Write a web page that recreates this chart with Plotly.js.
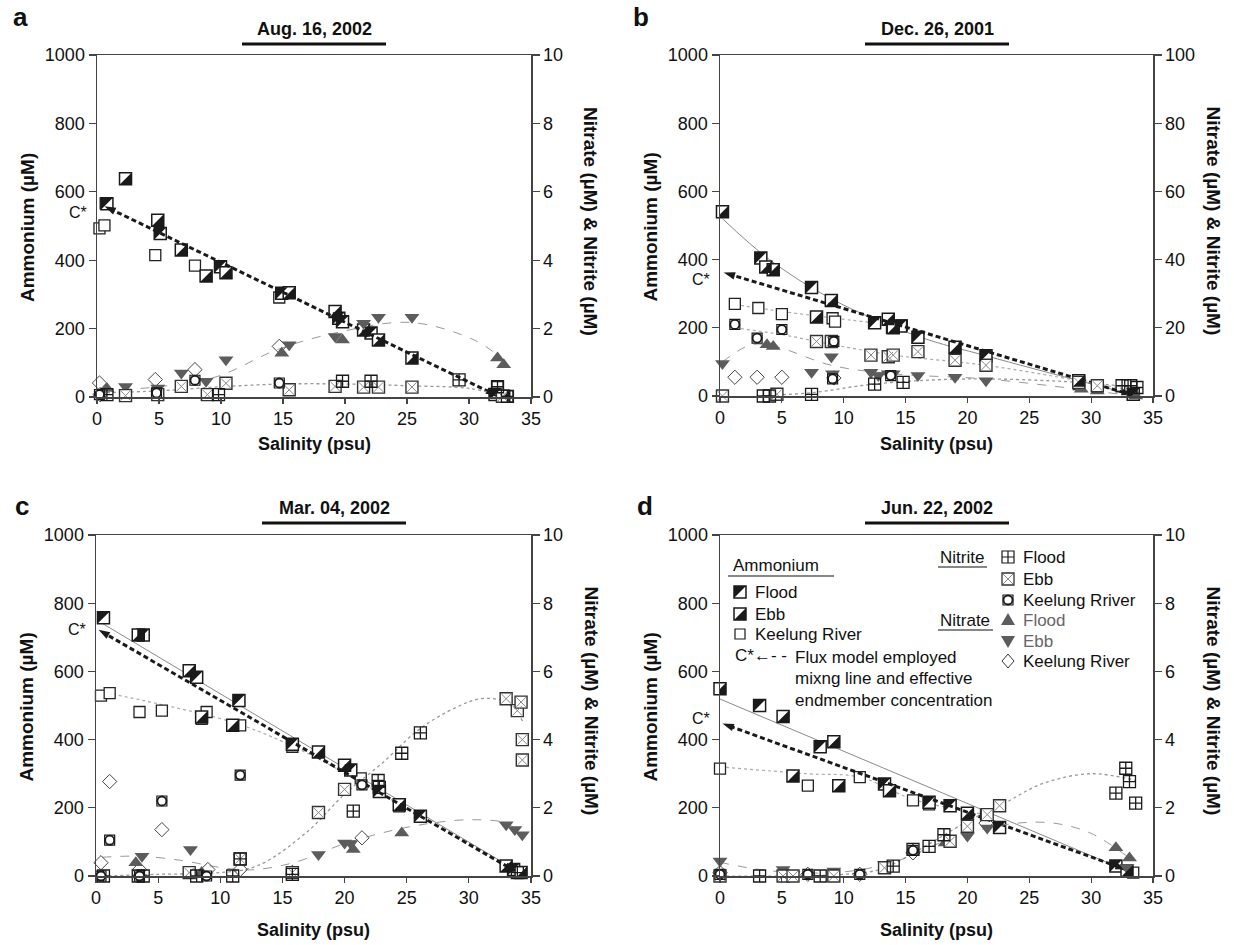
<!DOCTYPE html>
<html><head><meta charset="utf-8">
<script src="https://cdn.plot.ly/plotly-3.0.1.min.js"></script>
<style>body{margin:0;background:#fff}#chart{width:1234px;height:945px}</style>
</head><body><div id="chart"></div>
<script>
// ---------------- DATA (salinity psu / concentration µM) ----------------
// Panel a  Aug. 16, 2002
const aAmmFloodX = [0.8, 5.1, 9.96, 14.9, 19.5, 19.8, 22.1, 32.1];
const aAmmFloodY = [565, 478, 381, 303, 230, 220, 187, 7];
const aAmmEbbX = [2.3, 4.9, 6.8, 8.8, 10.4, 15.5, 19.2, 21.5, 22.7, 25.4, 32.8];
const aAmmEbbY = [638, 517, 430, 354, 363, 305, 250, 196, 167, 114, 2];
const aAmmRiverX = [0.2, 0.6, 0.7, 4.7, 7.9, 14.7, 32.3, 33.1];
const aAmmRiverY = [493, 502, 566, 415, 384, 291, 29, 2];
const aNitriteFloodX = [0.8, 9.8, 19.8, 22.1, 29.2, 32.3, 33.1];
const aNitriteFloodY = [0.07, 0.07, 0.46, 0.46, 0.5, 0.3, 0.02];
const aNitriteEbbX = [2.3, 4.9, 6.8, 8.9, 10.4, 15.5, 19.2, 21.5, 22.7, 25.4, 32.7];
const aNitriteEbbY = [0.04, 0.07, 0.31, 0.07, 0.4, 0.21, 0.31, 0.29, 0.29, 0.29, 0.02];
const aNitriteRiverX = [0.2, 4.8, 7.9, 14.7];
const aNitriteRiverY = [0.07, 0.12, 0.49, 0.41];
const aNitrateFloodX = [0.8, 14.9, 19.8, 32.3, 32.8];
const aNitrateFloodY = [0.25, 1.28, 1.67, 1.14, 0.94];
const aNitrateEbbX = [2.3, 4.9, 6.8, 8.8, 10.4, 15.5, 19.2, 21.5, 22.7, 25.4];
const aNitrateEbbY = [0.31, 0.26, 0.7, 0.46, 1.09, 1.53, 1.77, 2.16, 2.33, 2.33];
const aNitrateRiverX = [0.2, 0.25, 4.7, 7.9, 14.7];
const aNitrateRiverY = [0.41, 0.07, 0.51, 0.8, 1.48];
const aMixX = [32.2, 0.6];
const aMixY = [5, 558];
const aNitrateFitX = [0.6, 5, 9.7, 14.5, 19.2, 25.3, 30.4, 32.6];
const aNitrateFitY = [0.2, 0.3, 0.6, 1.38, 1.87, 2.18, 1.67, 1.14];
const aNitriteFitX = [0.3, 5, 10, 15, 20, 25, 30, 32.5];
const aNitriteFitY = [0.12, 0.18, 0.3, 0.38, 0.38, 0.33, 0.25, 0.05];

// Panel b  Dec. 26, 2001
const bAmmFloodX = [3.3, 7.4, 12.5, 14.6, 16.0, 21.5, 33.4];
const bAmmFloodY = [405, 318, 215, 205, 172, 118, 5];
const bAmmEbbX = [0.2, 3.7, 4.3, 7.8, 9.0, 13.6, 14.0, 19.0, 29.0];
const bAmmEbbY = [540, 378, 370, 232, 280, 225, 200, 143, 45];
const bAmmRiverX = [1.2, 3.1, 5.0, 9.1, 9.3, 13.9, 14.7, 29.0, 30.5];
const bAmmRiverY = [270, 258, 240, 228, 218, 200, 207, 35, 30];
const bNitriteFloodX = [3.5, 4.0, 7.4, 12.5, 14.8, 32.5, 33.2, 33.7];
const bNitriteFloodY = [0, 0, 0.5, 3.5, 4, 3, 3, 2.5];
const bNitriteEbbX = [0.2, 4.6, 7.8, 9.0, 12.2, 13.6, 14.0, 16.0, 19.0, 21.5, 29.0, 30.5];
const bNitriteEbbY = [0, 0.5, 16, 16, 12, 11.5, 12, 13, 10.5, 9, 4, 3];
const bNitriteRiverX = [1.2, 3.0, 5.0, 9.2, 9.1, 13.8];
const bNitriteRiverY = [21, 17, 19.5, 16, 5, 6];
const bNitrateFloodX = [3.8, 4.3, 29.2, 30.5, 33.6];
const bNitrateFloodY = [15, 14.5, 2, 1.5, 0];
const bNitrateEbbX = [0.2, 7.4, 9.0, 9.1, 12.2, 12.8, 13.6, 14.0, 16.0, 19.0, 21.5];
const bNitrateEbbY = [9.5, 7, 11.5, 6.5, 7, 6, 6.5, 6.5, 6, 5.5, 4.5];
const bNitrateRiverX = [1.2, 3.0, 5.0, 9.2];
const bNitrateRiverY = [5.5, 5.5, 5.5, 5.3];
const bMixX = [33.3, 0.3];
const bMixY = [3, 362];
const bAmmFitX = [0.2, 4, 9, 16, 21.5, 29, 33.5];
const bAmmFitY = [520, 400, 285, 175, 118, 45, 3];
const bRiverAmmFitX = [1.2, 5, 9.3, 14.8];
const bRiverAmmFitY = [268, 248, 228, 205];
const bNitrateFitX = [0.2, 2.5, 4.5, 9, 14, 21.5, 29, 33.5];
const bNitrateFitY = [10, 15, 14.5, 9, 6.5, 5, 2, 0];
const bNitriteFitX = [4.6, 7.5, 12.5, 20, 29, 33.5];
const bNitriteFitY = [0.3, 1, 3.5, 5, 4, 2.5];
const bNitriteEbbFitX = [1.2, 5, 9.2, 14, 21.5, 29, 33.5];
const bNitriteEbbFitY = [20, 18, 15, 12, 9, 4.5, 1.5];

// Panel c  Mar. 04, 2002
const cAmmFloodX = [0.6, 3.8, 8.1, 11.5, 15.8, 20.5, 22.8, 26.1, 33.6];
const cAmmFloodY = [757, 707, 583, 515, 386, 311, 248, 175, 19];
const cAmmEbbX = [3.4, 7.5, 8.5, 11.0, 17.9, 20.0, 24.4, 33.0, 34.2];
const cAmmEbbY = [707, 602, 466, 442, 364, 325, 209, 29, 10];
const cAmmRiverX = [0.4, 1.1, 3.5, 5.3, 8.5, 8.9, 11.6, 15.8, 21.3, 24.4];
const cAmmRiverY = [529, 536, 481, 485, 461, 481, 442, 379, 286, 204];
const cNitriteFloodX = [0.6, 3.4, 3.8, 8.1, 11.0, 11.6, 15.8, 20.7, 22.7, 22.8, 24.6, 26.1, 33.9];
const cNitriteFloodY = [0, 0, 0, 0, 0, 0.5, 0.05, 1.9, 2.8, 2.6, 3.6, 4.2, 0.1];
const cNitriteEbbX = [7.5, 11.6, 15.8, 17.9, 20.0, 33.0, 33.9, 34.2, 34.3, 34.3];
const cNitriteEbbY = [0.1, 0.5, 0.1, 1.86, 2.54, 5.2, 4.85, 5.1, 4.0, 3.4];
const cNitriteRiverX = [0.4, 1.1, 3.5, 5.3, 8.9, 11.6, 21.4];
const cNitriteRiverY = [0, 1.05, 0, 2.2, 0, 2.96, 2.67];
const cNitrateFloodX = [3.2, 8.5, 15.8, 20.7, 24.6];
const cNitrateFloodY = [0.39, 0.1, 0.15, 0.78, 1.26];
const cNitrateEbbX = [3.7, 7.6, 17.9, 20.0, 20.5, 33.0, 33.7, 34.3];
const cNitrateEbbY = [0.58, 0.78, 0.63, 0.97, 0.95, 1.5, 1.36, 1.21];
const cNitrateRiverX = [0.4, 1.1, 3.5, 5.3, 9.0, 11.6, 21.4];
const cNitrateRiverY = [0.39, 2.77, 0.19, 1.36, 0.19, 0.19, 1.12];
const cMixX = [33.7, 0.2];
const cMixY = [15, 722];
const cAmmFitX = [0.4, 33.7];
const cAmmFitY = [743, 19];
const cRiverAmmFitX = [0.4, 5, 11.5, 17, 24.4];
const cRiverAmmFitY = [540, 505, 445, 360, 210];
const cNitriteFitX = [0.5, 5, 10, 13, 17, 20, 23, 26, 29, 31, 33, 34.4];
const cNitriteFitY = [0, 0.05, 0.1, 0.3, 1.3, 2.4, 3.3, 4.3, 4.95, 5.2, 5.1, 4.5];
const cNitrateFitX = [0.5, 3.5, 7, 10, 12.5, 16, 20, 24, 27, 30, 33, 34.3];
const cNitrateFitY = [0.55, 0.58, 0.45, 0.25, 0.18, 0.4, 0.95, 1.35, 1.55, 1.65, 1.55, 1.2];

// Panel d  Jun. 22, 2002
const dAmmFloodX = [3.2, 8.1, 13.3, 16.9, 18.6, 22.6, 32.0];
const dAmmFloodY = [500, 379, 270, 216, 206, 142, 29];
const dAmmEbbX = [0.0, 5.1, 5.9, 9.2, 9.6, 13.7, 20.0, 32.9];
const dAmmEbbY = [549, 468, 293, 394, 265, 250, 184, 15];
const dAmmRiverX = [0.0, 7.1, 11.3, 15.6, 16.9, 21.5, 33.4];
const dAmmRiverY = [315, 265, 290, 222, 210, 180, 10];
const dNitriteFloodX = [3.2, 8.1, 14.0, 15.6, 16.9, 18.1, 32.0, 32.8, 33.1, 33.6];
const dNitriteFloodY = [0, 0, 0.29, 0.78, 0.87, 1.21, 2.43, 3.16, 2.77, 2.14];
const dNitriteEbbX = [0.0, 5.1, 5.9, 9.2, 13.3, 18.6, 20.0, 21.6, 22.6];
const dNitriteEbbY = [0, 0, 0, 0, 0.24, 1.02, 1.46, 1.8, 2.06];
const dNitriteRiverX = [0.0, 7.1, 11.3, 15.6];
const dNitriteRiverY = [0.05, 0.05, 0.05, 0.75];
const dNitrateFloodX = [18.2, 32.0, 33.1];
const dNitrateFloodY = [0.97, 0.83, 0.53];
const dNitrateEbbX = [0.0, 5.1, 5.9, 9.2, 13.3, 20.0, 21.6, 32.9];
const dNitrateEbbY = [0.44, 0.19, 0.05, 0.15, 0.34, 1.17, 1.41, 0.24];
const dNitrateRiverX = [0.0, 7.1, 11.3, 15.6, 21.5];
const dNitrateRiverY = [0.1, 0.05, 0.05, 0.68, 1.55];
const dMixX = [32.8, 0.2];
const dMixY = [19, 447];
const dAmmFitX = [0, 32.9];
const dAmmFitY = [519, 15];
const dRiverAmmFitX = [0, 7, 11.3, 15.6, 21.5];
const dRiverAmmFitY = [320, 300, 290, 225, 180];
const dNitriteFitX = [0, 5, 10, 13, 16, 20, 22.6, 26, 30, 33.6];
const dNitriteFitY = [0, 0, 0.05, 0.2, 0.75, 1.6, 2.05, 2.7, 3.0, 2.8];
const dNitrateFitX = [0, 3, 6, 10, 14, 18, 21, 24, 27, 30, 32.9];
const dNitrateFitY = [0.4, 0.2, 0.1, 0.12, 0.4, 1.0, 1.35, 1.55, 1.55, 1.25, 0.58];

const panelTitles = ['Aug. 16, 2002', 'Dec. 26, 2001', 'Mar. 04, 2002', 'Jun. 22, 2002'];
const panelLetters = ['a', 'b', 'c', 'd'];
const rightMax = [10, 100, 10, 10];
const xTitle = 'Salinity (psu)';
const yLeftTitle = 'Ammonium (µM)';
const yRightTitle = 'Nitrate (µM) &amp; Nitrite (µM)';

// ---------------- BUILD ----------------
const FONT = 'Liberation Sans, Arial, sans-serif';
const W = 1234, H = 945;
const px = v => v / W, py = v => 1 - v / H;
const DARK = '#1a1a1a', NGRAY = '#5c5c5c';
const traces = [];
const shapes = [];
const S = 12;
const TRI_UL = 'M-6,6 L6,6 L-6,-6 Z';   // upper-left half (Flood)
const TRI_LR = 'M6,-6 L-6,-6 L6,6 Z';   // lower-right half (Ebb)

function sc(x, y, xa, ya, marker) {
  return {type: 'scatter', mode: 'markers', x, y, xaxis: xa, yaxis: ya,
    marker, cliponaxis: false, hoverinfo: 'skip', showlegend: false};
}
function fit(x, y, xa, ya, dash, color, w) {
  traces.push({type: 'scatter', mode: 'lines', x, y, xaxis: xa, yaxis: ya,
    line: {shape: 'spline', smoothing: 1, dash, color, width: w},
    hoverinfo: 'skip', showlegend: false, cliponaxis: false});
}
function halfSq(x, y, xa, ya, path) {
  traces.push(sc(x, y, xa, ya, {symbol: 'square', size: S, color: '#fff', line: {color: DARK, width: 1.5}}));
  x.forEach((xv, k) => shapes.push({type: 'path', xref: xa, yref: ya, xsizemode: 'pixel', ysizemode: 'pixel',
    xanchor: xv, yanchor: y[k], path, fillcolor: DARK, line: {width: 0}, layer: 'above'}));
}
function panel(P, xa, yl, yr) {
  const g = n => P[n];
  if (g('AmmFitX')) fit(g('AmmFitX'), g('AmmFitY'), xa, yl, 'solid', '#8a8a8a', 1);
  if (g('RiverAmmFitX')) fit(g('RiverAmmFitX'), g('RiverAmmFitY'), xa, yl, 'dot', '#aaa', 1.2);
  if (g('NitriteFitX')) fit(g('NitriteFitX'), g('NitriteFitY'), xa, yr, 'dot', '#999', 1.3);
  if (g('NitriteEbbFitX')) fit(g('NitriteEbbFitX'), g('NitriteEbbFitY'), xa, yr, 'dot', '#aaa', 1.2);
  if (g('NitrateFitX')) fit(g('NitrateFitX'), g('NitrateFitY'), xa, yr, 'dash', '#999', 1);
  traces.push(sc(g('NitrateRiverX'), g('NitrateRiverY'), xa, yr, {symbol: 'diamond-open', size: 11, color: '#444', line: {width: 1}}));
  traces.push(sc(g('NitrateFloodX'), g('NitrateFloodY'), xa, yr, {symbol: 'triangle-up', size: 13, color: NGRAY, line: {width: 0}}));
  traces.push(sc(g('NitrateEbbX'), g('NitrateEbbY'), xa, yr, {symbol: 'triangle-down', size: 13, color: NGRAY, line: {width: 0}}));
  traces.push(sc(g('NitriteEbbX'), g('NitriteEbbY'), xa, yr, {symbol: 'square', size: S, color: '#fff', line: {color: '#333', width: 1.4}}));
  traces.push(sc(g('NitriteEbbX'), g('NitriteEbbY'), xa, yr, {symbol: 'x-thin-open', size: S * 0.8, color: '#888', line: {color: '#888', width: 1}}));
  traces.push(sc(g('NitriteFloodX'), g('NitriteFloodY'), xa, yr, {symbol: 'square-cross-open', size: S, color: DARK, line: {color: DARK, width: 1.3}}));
  traces.push(sc(g('NitriteRiverX'), g('NitriteRiverY'), xa, yr, {symbol: 'square-open', size: 10, color: DARK, line: {color: DARK, width: 1.2}}));
  traces.push(sc(g('NitriteRiverX'), g('NitriteRiverY'), xa, yr, {symbol: 'circle', size: 9, color: '#fff', line: {color: DARK, width: 1.8}}));
  traces.push(sc(g('AmmRiverX'), g('AmmRiverY'), xa, yl, {symbol: 'square', size: 11, color: '#fff', line: {color: '#222', width: 1.3}}));
  halfSq(g('AmmFloodX'), g('AmmFloodY'), xa, yl, TRI_UL);
  halfSq(g('AmmEbbX'), g('AmmEbbY'), xa, yl, TRI_LR);
  traces.push({type: 'scatter', mode: 'lines+markers', x: g('MixX'), y: g('MixY'), xaxis: xa, yaxis: yl,
    line: {color: DARK, width: 3, dash: '5px,3px'},
    marker: {symbol: 'arrow', size: 12, angleref: 'previous', color: DARK},
    cliponaxis: false, hoverinfo: 'skip', showlegend: false});
  traces.push({type: 'scatter', mode: 'markers', x: g('MixX').slice().reverse(), y: g('MixY').slice().reverse(), xaxis: xa, yaxis: yl,
    marker: {symbol: 'arrow', size: 11, angleref: 'previous', color: DARK},
    cliponaxis: false, hoverinfo: 'skip', showlegend: false});
}
const ALL = {
  a: {AmmFloodX: aAmmFloodX, AmmFloodY: aAmmFloodY, AmmEbbX: aAmmEbbX, AmmEbbY: aAmmEbbY, AmmRiverX: aAmmRiverX, AmmRiverY: aAmmRiverY,
      NitriteFloodX: aNitriteFloodX, NitriteFloodY: aNitriteFloodY, NitriteEbbX: aNitriteEbbX, NitriteEbbY: aNitriteEbbY,
      NitriteRiverX: aNitriteRiverX, NitriteRiverY: aNitriteRiverY, NitrateFloodX: aNitrateFloodX, NitrateFloodY: aNitrateFloodY,
      NitrateEbbX: aNitrateEbbX, NitrateEbbY: aNitrateEbbY, NitrateRiverX: aNitrateRiverX, NitrateRiverY: aNitrateRiverY,
      MixX: aMixX, MixY: aMixY, NitrateFitX: aNitrateFitX, NitrateFitY: aNitrateFitY, NitriteFitX: aNitriteFitX, NitriteFitY: aNitriteFitY},
  b: {AmmFloodX: bAmmFloodX, AmmFloodY: bAmmFloodY, AmmEbbX: bAmmEbbX, AmmEbbY: bAmmEbbY, AmmRiverX: bAmmRiverX, AmmRiverY: bAmmRiverY,
      NitriteFloodX: bNitriteFloodX, NitriteFloodY: bNitriteFloodY, NitriteEbbX: bNitriteEbbX, NitriteEbbY: bNitriteEbbY,
      NitriteRiverX: bNitriteRiverX, NitriteRiverY: bNitriteRiverY, NitrateFloodX: bNitrateFloodX, NitrateFloodY: bNitrateFloodY,
      NitrateEbbX: bNitrateEbbX, NitrateEbbY: bNitrateEbbY, NitrateRiverX: bNitrateRiverX, NitrateRiverY: bNitrateRiverY,
      MixX: bMixX, MixY: bMixY, AmmFitX: bAmmFitX, AmmFitY: bAmmFitY, RiverAmmFitX: bRiverAmmFitX, RiverAmmFitY: bRiverAmmFitY,
      NitrateFitX: bNitrateFitX, NitrateFitY: bNitrateFitY, NitriteFitX: bNitriteFitX, NitriteFitY: bNitriteFitY,
      NitriteEbbFitX: bNitriteEbbFitX, NitriteEbbFitY: bNitriteEbbFitY},
  c: {AmmFloodX: cAmmFloodX, AmmFloodY: cAmmFloodY, AmmEbbX: cAmmEbbX, AmmEbbY: cAmmEbbY, AmmRiverX: cAmmRiverX, AmmRiverY: cAmmRiverY,
      NitriteFloodX: cNitriteFloodX, NitriteFloodY: cNitriteFloodY, NitriteEbbX: cNitriteEbbX, NitriteEbbY: cNitriteEbbY,
      NitriteRiverX: cNitriteRiverX, NitriteRiverY: cNitriteRiverY, NitrateFloodX: cNitrateFloodX, NitrateFloodY: cNitrateFloodY,
      NitrateEbbX: cNitrateEbbX, NitrateEbbY: cNitrateEbbY, NitrateRiverX: cNitrateRiverX, NitrateRiverY: cNitrateRiverY,
      MixX: cMixX, MixY: cMixY, AmmFitX: cAmmFitX, AmmFitY: cAmmFitY, RiverAmmFitX: cRiverAmmFitX, RiverAmmFitY: cRiverAmmFitY,
      NitrateFitX: cNitrateFitX, NitrateFitY: cNitrateFitY, NitriteFitX: cNitriteFitX, NitriteFitY: cNitriteFitY},
  d: {AmmFloodX: dAmmFloodX, AmmFloodY: dAmmFloodY, AmmEbbX: dAmmEbbX, AmmEbbY: dAmmEbbY, AmmRiverX: dAmmRiverX, AmmRiverY: dAmmRiverY,
      NitriteFloodX: dNitriteFloodX, NitriteFloodY: dNitriteFloodY, NitriteEbbX: dNitriteEbbX, NitriteEbbY: dNitriteEbbY,
      NitriteRiverX: dNitriteRiverX, NitriteRiverY: dNitriteRiverY, NitrateFloodX: dNitrateFloodX, NitrateFloodY: dNitrateFloodY,
      NitrateEbbX: dNitrateEbbX, NitrateEbbY: dNitrateEbbY, NitrateRiverX: dNitrateRiverX, NitrateRiverY: dNitrateRiverY,
      MixX: dMixX, MixY: dMixY, AmmFitX: dAmmFitX, AmmFitY: dAmmFitY, RiverAmmFitX: dRiverAmmFitX, RiverAmmFitY: dRiverAmmFitY,
      NitrateFitX: dNitrateFitX, NitrateFitY: dNitrateFitY, NitriteFitX: dNitriteFitX, NitriteFitY: dNitriteFitY}
};

// geometry in pixels: [left, right, top, bottom]
const geo = [[97, 531, 55, 397], [720, 1153, 55, 396], [96, 531, 535, 876], [720, 1153, 535, 876]];
const cStarShift = [-6, -7, 0, 5];
const layout = {width: W, height: H, autosize: false, margin: {l: 0, r: 0, t: 0, b: 0},
  paper_bgcolor: '#fff', plot_bgcolor: 'rgba(0,0,0,0)', showlegend: false,
  font: {family: FONT, size: 18, color: '#111'}, annotations: [], shapes};
const tickfont = {family: FONT, size: 18, color: '#111'};
['a', 'b', 'c', 'd'].forEach((p, i) => {
  const [l, r, t, b] = geo[i];
  const xn = i === 0 ? '' : String(i + 1);
  const yl = 2 * i + 1, yr = 2 * i + 2;
  const ylName = yl === 1 ? '' : String(yl);
  layout['xaxis' + xn] = {domain: [px(l), px(r)], anchor: 'y' + ylName, range: [0, 35], dtick: 5, tick0: 0,
    ticks: 'outside', ticklen: 5, tickwidth: 1.2, tickcolor: '#444', showline: true, linecolor: '#444', linewidth: 1.5,
    mirror: true, showgrid: false, zeroline: false, tickfont, fixedrange: true};
  layout['yaxis' + ylName] = {domain: [py(b), py(t)], anchor: 'x' + xn, range: [0, 1000], dtick: 200, tick0: 0,
    ticks: 'outside', ticklen: 7, tickwidth: 1.2, tickcolor: '#444', showline: true, linecolor: '#444', linewidth: 1.5,
    showgrid: false, zeroline: false, tickfont, fixedrange: true};
  layout['yaxis' + yr] = {overlaying: 'y' + ylName, side: 'right', anchor: 'x' + xn, range: [0, rightMax[i]],
    dtick: rightMax[i] / 5, tick0: 0, ticks: 'outside', ticklen: 7, tickwidth: 1.2, tickcolor: '#444', showline: true,
    linecolor: '#444', linewidth: 1.5, showgrid: false, zeroline: false, tickfont, fixedrange: true};
  panel(ALL[p], 'x' + xn, 'y' + ylName, 'y' + yr);

  const cx = (l + r) / 2, cy = (t + b) / 2;
  const ty = i < 2 ? 29 : 508;
  const tcx = [314, 937, 334, 937][i];
  layout.annotations.push({xref: 'paper', yref: 'paper', x: px(tcx), y: py(ty), text: '<b>' + panelTitles[i] + '</b>',
    showarrow: false, font: {family: FONT, size: 18, color: '#111'}, xanchor: 'center', yanchor: 'middle'});
  shapes.push({type: 'line', xref: 'paper', yref: 'paper', x0: px(tcx - 72), x1: px(tcx + 72),
    y0: py(ty + 15), y1: py(ty + 15), line: {color: '#111', width: 3}});
  layout.annotations.push({xref: 'paper', yref: 'paper', x: px([20, 641, 22, 645][i]), y: py(i < 2 ? 17 : 506),
    text: '<b>' + panelLetters[i] + '</b>', showarrow: false, font: {family: FONT, size: 26, color: '#111'},
    xanchor: 'center', yanchor: 'middle'});
  layout.annotations.push({xref: 'paper', yref: 'paper', x: px(cx), y: py(i < 2 ? 444 : 930), text: '<b>' + xTitle + '</b>',
    showarrow: false, font: {family: FONT, size: 18, color: '#111'}, xanchor: 'center', yanchor: 'middle'});
  layout.annotations.push({xref: 'paper', yref: 'paper', x: px(l - 70), y: py(cy + 2), text: '<b>' + yLeftTitle + '</b>',
    textangle: -90, showarrow: false, font: {family: FONT, size: 19, color: '#111'}, xanchor: 'center', yanchor: 'middle'});
  layout.annotations.push({xref: 'paper', yref: 'paper', x: px(r + 60), y: py(cy - 5), text: '<b>' + yRightTitle + '</b>',
    textangle: 90, showarrow: false, font: {family: FONT, size: 19, color: '#111'}, xanchor: 'center', yanchor: 'middle'});
  layout.annotations.push({xref: 'x' + xn, yref: 'y' + ylName, x: 0, y: ALL[p].MixY[1], text: 'C*', showarrow: false,
    xanchor: 'right', yanchor: 'middle', xshift: -8, yshift: cStarShift[i], font: {family: FONT, size: 16, color: '#111'}});
});

// ---------------- LEGEND (panel d) ----------------
const LF = {family: FONT, size: 17, color: '#111'};
const LG = Object.assign({}, LF, {color: '#666'});
function ltxt(x, y, text, font) {
  layout.annotations.push({xref: 'paper', yref: 'paper', x: px(x), y: py(y), text, showarrow: false,
    xanchor: 'left', yanchor: 'middle', font: font || LF});
}
function uline(x0, x1, y) {
  shapes.push({type: 'line', xref: 'paper', yref: 'paper', x0: px(x0), x1: px(x1), y0: py(y), y1: py(y),
    line: {color: '#111', width: 1.2}});
}
function icon(x, y, path, fill, lineColor, lw) {
  shapes.push({type: 'path', xref: 'paper', yref: 'paper', xsizemode: 'pixel', ysizemode: 'pixel',
    xanchor: px(x), yanchor: py(y), path, fillcolor: fill, line: {color: lineColor, width: lw}});
}
const SQ = 'M-6,-6 L6,-6 L6,6 L-6,6 Z';
const SQS = 'M-5,-5 L5,-5 L5,5 L-5,5 Z';
ltxt(731, 565, 'Ammonium'); uline(728, 834, 576);
icon(740, 592, SQ, '#fff', DARK, 1.5); icon(740, 592, TRI_UL, DARK, DARK, 0); ltxt(753, 592, 'Flood');
icon(740, 614, SQ, '#fff', DARK, 1.5); icon(740, 614, TRI_LR, DARK, DARK, 0); ltxt(753, 614, 'Ebb');
icon(740, 634, SQS, '#fff', DARK, 1.2); ltxt(753, 634, 'Keelung River');
ltxt(733, 655, 'C*<b>←</b>- -'); ltxt(793, 657, 'Flux model employed');
ltxt(793, 678, 'mixng line and effective'); ltxt(793, 700, 'endmember concentration');
ltxt(938, 557, 'Nitrite'); uline(938, 987, 567);
icon(1008, 557, SQ, '#fff', DARK, 1.2); icon(1008, 557, 'M0,-6 L0,6 M-6,0 L6,0', 'rgba(0,0,0,0)', DARK, 1.2); ltxt(1021, 557, 'Flood');
icon(1008, 579, SQ, '#fff', '#333', 1.3); icon(1008, 579, 'M-5,-5 L5,5 M-5,5 L5,-5', 'rgba(0,0,0,0)', '#888', 1); ltxt(1021, 579, 'Ebb');
icon(1008, 600, SQS, '#fff', DARK, 1.2);
shapes.push({type: 'circle', xref: 'paper', yref: 'paper', xsizemode: 'pixel', ysizemode: 'pixel', xanchor: px(1008), yanchor: py(600),
  x0: -4.5, x1: 4.5, y0: -4.5, y1: 4.5, fillcolor: '#fff', line: {color: DARK, width: 1.8}});
ltxt(1021, 600, 'Keelung Rriver');
ltxt(938, 620, 'Nitrate'); uline(938, 993, 630);
icon(1008, 620, 'M-7,-5 L7,-5 L0,7 Z', NGRAY, NGRAY, 0); ltxt(1021, 620, 'Flood', LG);
icon(1008, 641, 'M-7,5 L7,5 L0,-7 Z', NGRAY, NGRAY, 0); ltxt(1021, 641, 'Ebb', LG);
icon(1008, 661, 'M0,7 L6,0 L0,-7 L-6,0 Z', '#fff', '#333', 1); ltxt(1021, 661, 'Keelung River');

Plotly.newPlot('chart', traces, layout, {displayModeBar: false, staticPlot: true});
</script></body></html>
